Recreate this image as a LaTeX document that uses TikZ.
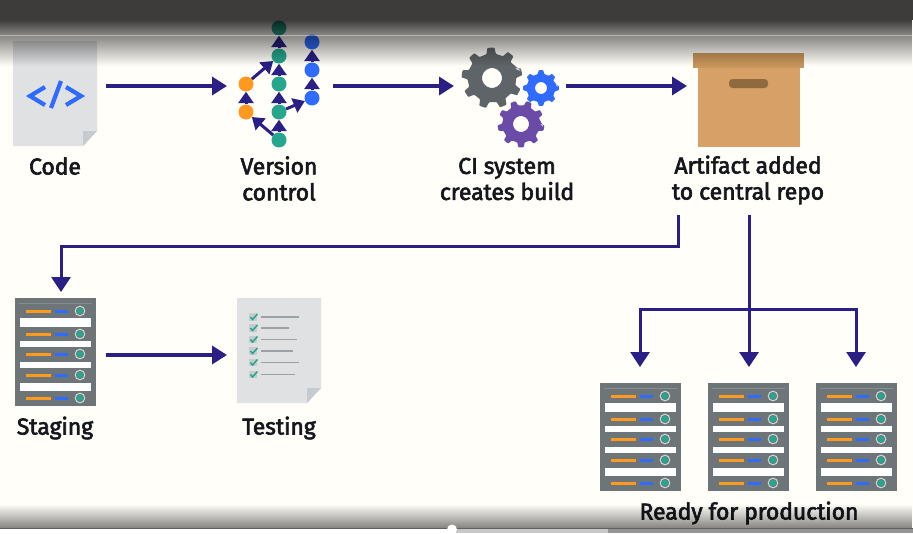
\documentclass[tikz,border=0pt]{standalone}
\usepackage{fontspec}
\setmainfont[FakeBold=2.6,LetterSpace=-0.4]{Fira Sans}
\usetikzlibrary{arrows.meta,fadings}
\definecolor{bgc}{HTML}{FFFEF9}
\definecolor{navy}{HTML}{2A1F85}
\definecolor{tealc}{HTML}{26A68C}
\definecolor{orangec}{HTML}{FF9A1F}
\definecolor{bluec}{HTML}{2F6BFF}
\definecolor{rackc}{HTML}{6E7578}
\definecolor{docc}{HTML}{E0E1E2}
\definecolor{foldc}{HTML}{C6CBCF}
\definecolor{boxc}{HTML}{D6A066}
\definecolor{lidc}{HTML}{C8965A}
\definecolor{handlec}{HTML}{8F6A3E}
\definecolor{gearg}{HTML}{5F6468}
\definecolor{gearp}{HTML}{6B4BA8}
\definecolor{darkt}{HTML}{14171C}
\definecolor{sheetline}{HTML}{9AA2A6}
\tikzfading[name=fadeA,top color=transparent!24,bottom color=transparent!58]
\tikzfading[name=fadeB,top color=transparent!55,bottom color=transparent!100]
\tikzfading[name=fadeC,top color=transparent!100,bottom color=transparent!52]
\tikzset{
  x=1pt,y=-1pt,
  hub/.style={inner sep=0pt,outer sep=0pt},
  label/.style={align=center,text=darkt,font=\fontsize{23}{26}\selectfont,inner sep=0pt},
  dotn/.style={circle,fill=#1,inner sep=0pt,minimum size=15pt},
  flow/.style={draw=navy,line width=3.4pt,-{Triangle[length=15pt,width=18pt]}},
  flowb/.style={draw=navy,line width=3pt,-{Triangle[length=15pt,width=19pt]}},
  twig/.style={draw=navy,line width=3pt,-{Triangle[length=11.5pt,width=15pt]}},
  rowline/.style={line width=3pt},
  rack/.pic={
    \fill[rackc] (0,0) rectangle (81,108);
    \draw[white,opacity=.18,line width=.6pt] (4,5) -- (77,5);
    \foreach \a/\b in {20/29,43/49,64/70,85/93}{\fill[white] (5,\a) rectangle (76,\b);}
    \foreach \r in {13,36,56,77,100}{
      \draw[orangec,rowline] (11,\r) -- (36,\r);
      \draw[bluec,rowline] (40,\r) -- (53,\r);
      \fill[tealc] (65,\r) circle (3.4pt);
      \draw[white,opacity=.7,line width=1pt] (65,\r) circle (4.8pt);
    }
  },
  docpage/.pic={
    \fill[docc] (0,0) -- (84,0) -- (84,90) -- (70,105) -- (0,105) -- cycle;
    \fill[foldc] (84,90) -- (70,90) -- (70,105) -- cycle;
  }
}
\newcommand{\gearshape}[7]{%
  \begin{scope}[shift={(#1,#2)},rotate=#7]
    \fill[#6,even odd rule,rounded corners=.8pt]
      (0:#3) \foreach \k in {1,...,#5}{
        -- ({(\k-1)*360/#5-100/#5}:#3*0.8)
        -- ({(\k-1)*360/#5-60/#5}:#3)
        -- ({(\k-1)*360/#5+60/#5}:#3)
        -- ({(\k-1)*360/#5+100/#5}:#3*0.8)
      } -- cycle
      (0,0) circle (#4);
  \end{scope}}
\begin{document}
\begin{tikzpicture}
\useasboundingbox (0,0) rectangle (913,533);
\fill[bgc] (0,0) rectangle (913,533);

% Code page
\pic at (13,41) {docpage};
\draw[bluec,line width=4.2pt,line join=miter] (45,87) -- (30,96) -- (45,105);
\draw[bluec,line width=4.2pt] (61,81) -- (51,108);
\draw[bluec,line width=4.2pt,line join=miter] (66,87) -- (81,96) -- (66,105);

% Version control graph
\node[dotn=tealc] (t0) at (279,28) {};
\node[dotn=tealc] (t1) at (279,56) {};
\node[dotn=tealc] (t2) at (279,84) {};
\node[dotn=tealc] (t3) at (279,112) {};
\node[dotn=tealc] (t4) at (279,140) {};
\node[dotn=orangec] (o1) at (246,84) {};
\node[dotn=orangec] (o2) at (246,112) {};
\node[dotn=bluec] (b0) at (312,42) {};
\node[dotn=bluec] (b1) at (312,70) {};
\node[dotn=bluec] (b2) at (312,98) {};
\draw[twig] (t1) -- (t0);
\draw[twig] (t2) -- (t1);
\draw[twig] (t3) -- (t2);
\draw[twig] (t4) -- (t3);
\draw[twig] (o2) -- (o1);
\draw[twig] (o1) -- (t1);
\draw[twig] (t4) -- (o2);
\draw[twig] (t3) -- (b2);
\draw[twig] (b2) -- (b1);
\draw[twig] (b1) -- (b0);

% Gears
\gearshape{492}{78}{30.5}{10}{9}{gearg}{12}
\gearshape{541}{88}{18}{6}{8}{bluec}{0}
\gearshape{521}{124}{23.5}{8}{9}{gearp}{-10}

% Box
\fill[boxc] (698,68) rectangle (800,147);
\fill[lidc] (693,53) rectangle (804,68);
\fill[handlec,rounded corners=3.5pt] (729,79) rectangle (768,88);

% Racks and test sheet
\pic at (15,298) {rack};
\pic at (600,383) {rack};
\pic at (708,383) {rack};
\pic at (816,383) {rack};
\pic at (237,298) {docpage};
\foreach \yy/\xe in {317/299,328/289,339.5/297,351/293,362.5/299,374.5/295}{
  \fill[foldc] (249,\yy-3.7) rectangle (257,\yy+3.7);
  \draw[tealc,line width=1.5pt] (250.5,\yy) -- (252.5,\yy+2.5) -- (257.5,\yy-3);
  \draw[sheetline,line width=1.4pt] (261,\yy) -- (\xe,\yy);
}

% Labels
\node[label] (lcode) at (55,166) {Code};
\node[label] (lvc) at (279,178.5) {Version\\control};
\node[label] (lci) at (507,179) {CI system\\creates build};
\node[label] (lart) at (748,180) {Artifact added\\to central repo};
\node[label] (lstage) at (55,428) {Staging};
\node[label] (ltest) at (279,428) {Testing};
\node[label] (lready) at (749,513) {Ready for production};

% Connector anchors
\node[hub,minimum width=102pt,minimum height=4pt] (code) at (55,86) {};
\node[hub,minimum width=106pt,minimum height=4pt] (vc) at (280,86) {};
\node[hub,minimum width=112pt,minimum height=4pt] (ci) at (510,86) {};
\node[hub,minimum width=124pt,minimum height=258pt] (art) at (749,86) {};
\node[hub,minimum width=102pt,minimum height=126pt] (stage) at (55,355) {};
\node[hub,minimum width=104pt,minimum height=4pt] (test) at (279,355) {};
\node[hub,minimum width=80pt,minimum height=140pt] (p1) at (640,437) {};
\node[hub,minimum width=80pt,minimum height=140pt] (p2) at (749,437) {};
\node[hub,minimum width=80pt,minimum height=140pt] (p3) at (856,437) {};
\coordinate (bendA) at (678,246);
\coordinate (bendB) at (61,246);
\coordinate (split) at (749,309);

\draw[flow] (code) -- (vc);
\draw[flow] (vc) -- (ci);
\draw[flow] (ci) -- (art.west |- ci);
\draw[flow] (stage.east |- test) -- (test);
\draw[flowb,line join=miter] (art.south -| bendA) -- (bendA) -- (bendB) -- (bendB |- stage.north);
\draw[flowb] (art.south) -- (p2.north);
\draw[flowb,line join=miter] (split) -- (split -| p1.north) -- (p1.north);
\draw[flowb,line join=miter] (split) -- (split -| p3.north) -- (p3.north);

% Player chrome overlay
\fill[black,opacity=.76] (0,0) rectangle (913,20);
\fill[black,path fading=fadeA] (0,20) rectangle (913,37);
\fill[black,path fading=fadeB] (0,37) rectangle (913,66);
\fill[white,opacity=.35] (0,34.8) rectangle (913,36.2);
\fill[black,path fading=fadeC] (0,504) rectangle (913,528);
\fill[white] (0,528) rectangle (913,533);
\fill[black!62] (0,527.6) rectangle (913,529);
\fill[black!42] (452,529) rectangle (913,533);
\fill[black!22] (452,529) rectangle (608,533);
\fill[white] (452,529.5) circle (5pt);
\end{tikzpicture}
\end{document}
